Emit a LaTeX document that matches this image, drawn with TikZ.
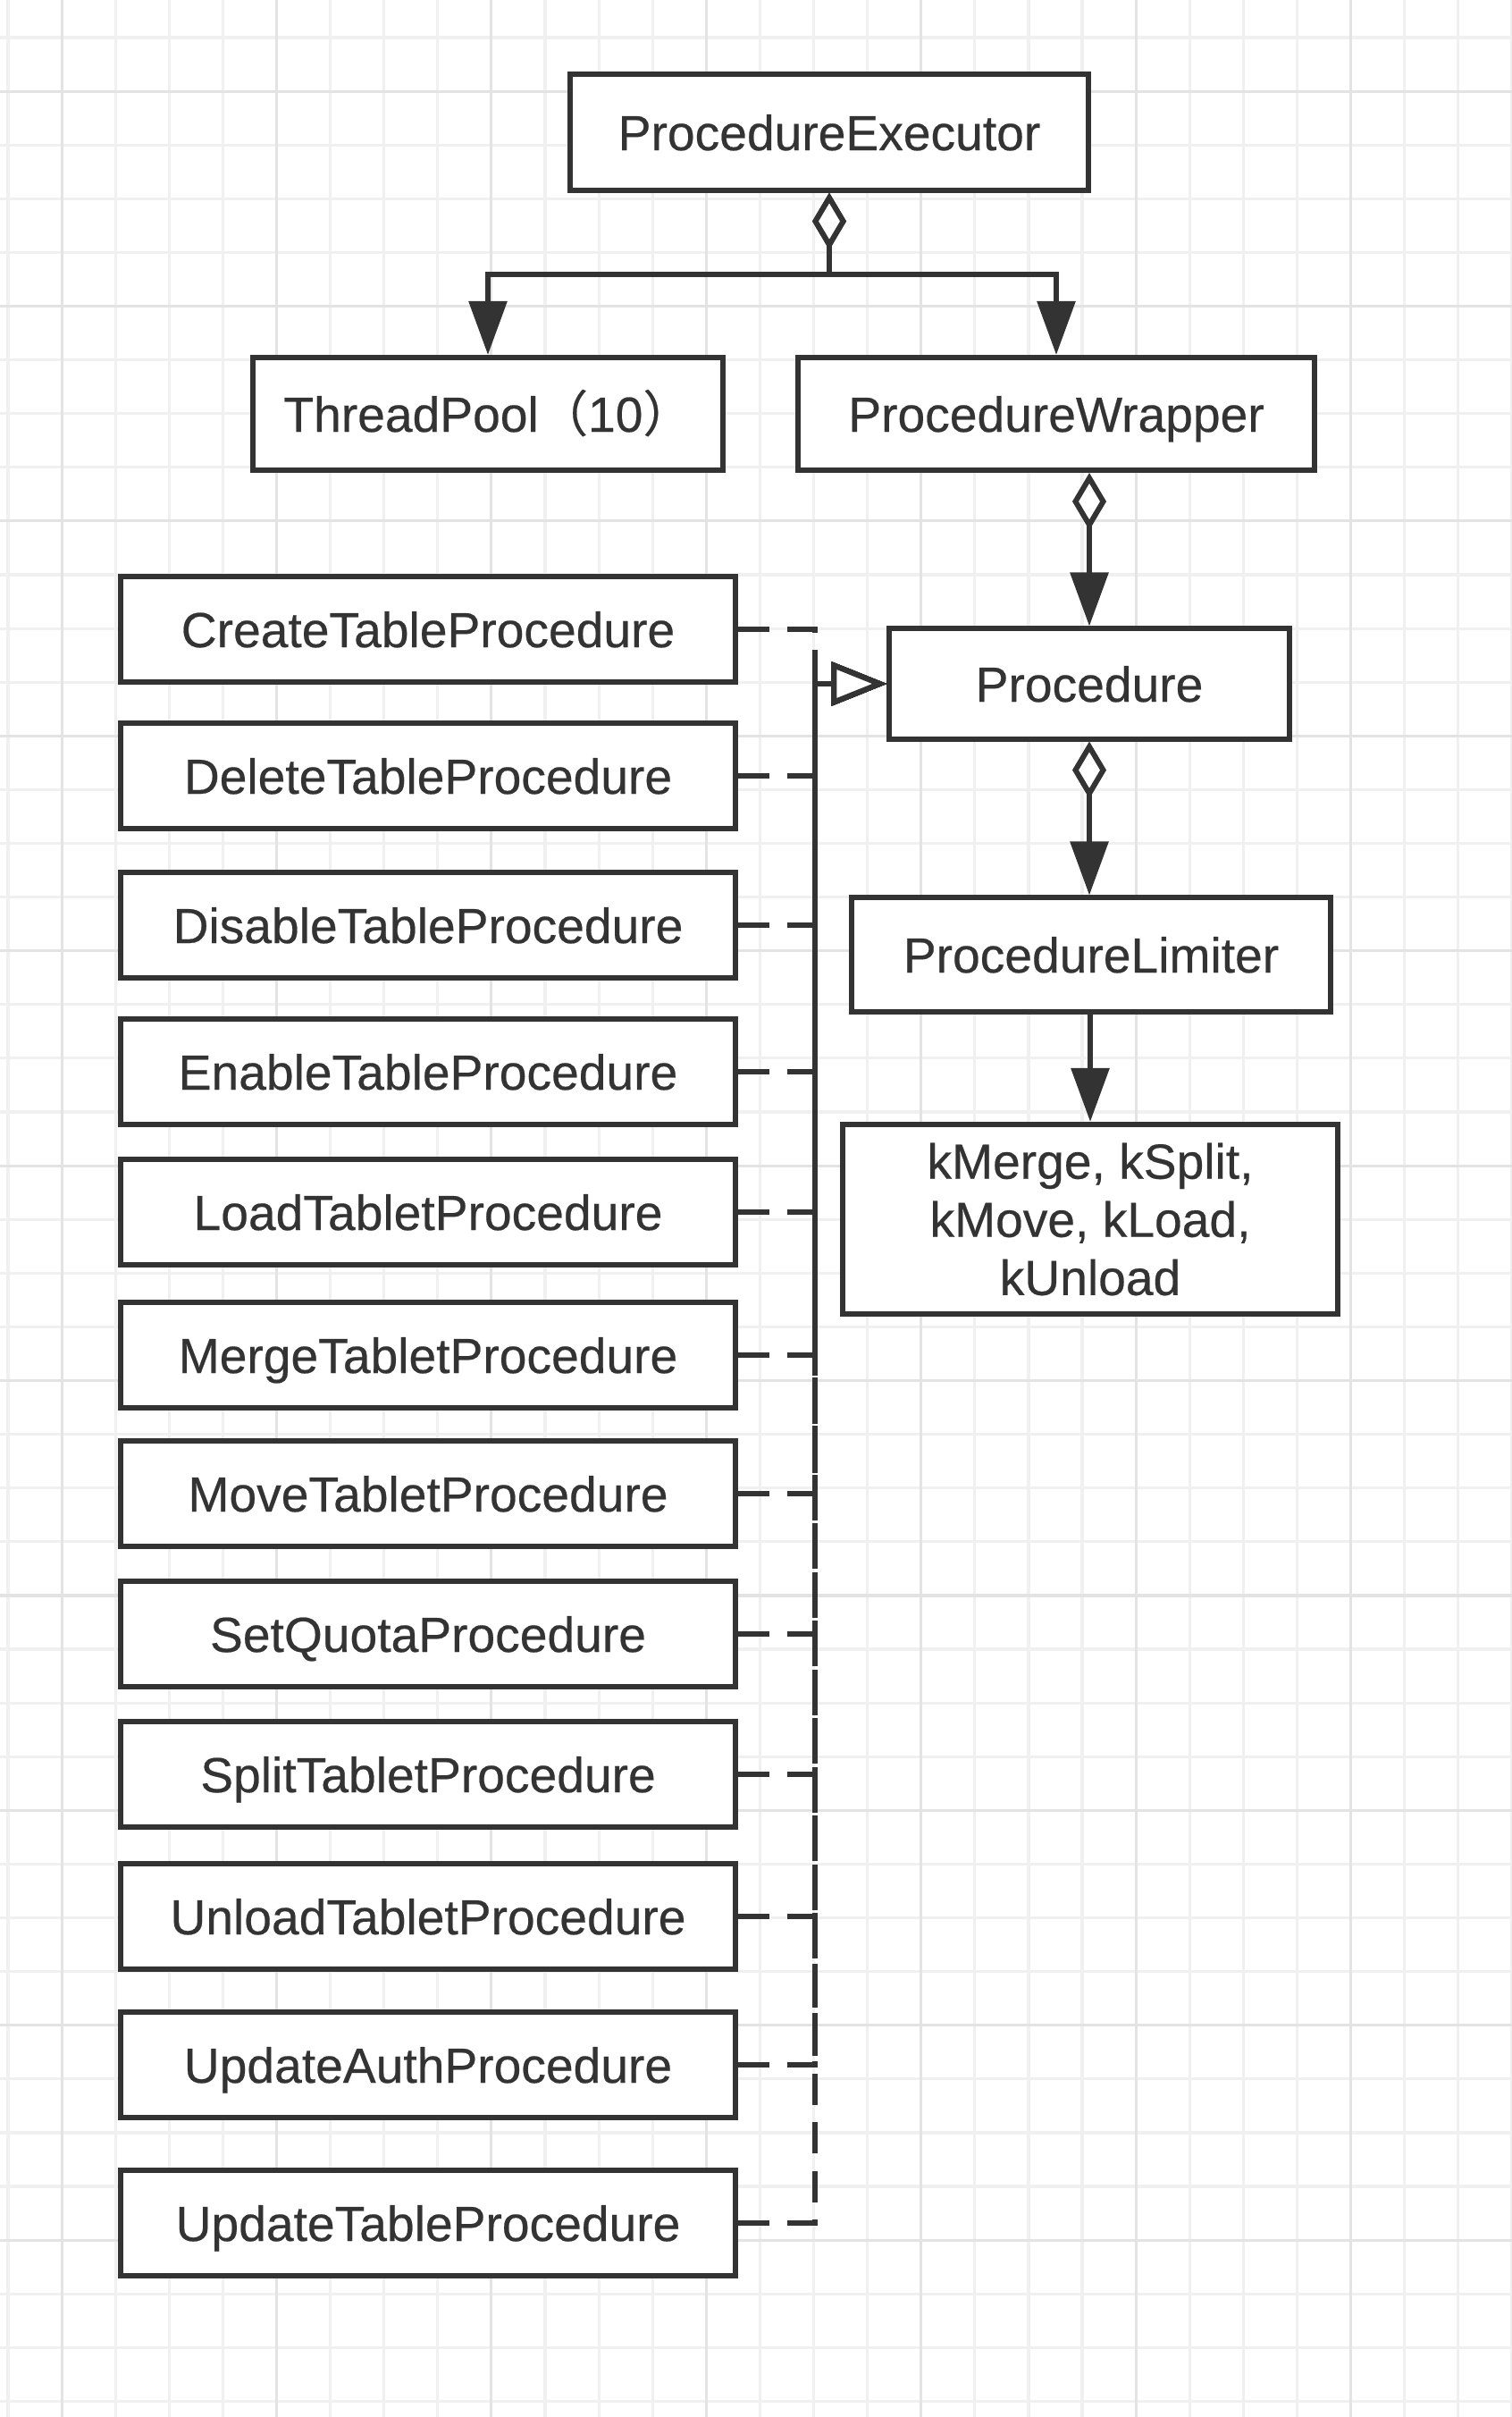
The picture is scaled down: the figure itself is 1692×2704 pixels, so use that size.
\documentclass[tikz,border=0pt]{standalone}
\usepackage{fontspec}
\setmainfont{Liberation Sans}
\newfontfamily\lbl{Liberation Sans}[FakeBold=0.4]
\newfontfamily\cjk{Noto Sans CJK SC}[FakeBold=0.4]
\usetikzlibrary{arrows.meta}
\definecolor{ink}{HTML}{333333}
\definecolor{gridminor}{HTML}{F0F0F0}
\definecolor{gridmajor}{HTML}{E3E3E3}
\tikzset{
  cls/.style={rectangle, draw=ink, line width=1.7pt, fill=white, text=ink,
    inner sep=0pt, align=center, font=\fontsize{15.7}{18.5}\lbl},
  one/.style={cls, text height=11.4pt, text depth=0pt},
  sub/.style={one, minimum width=6.88cm, minimum height=1.18cm},
  aggr/.style={draw=ink, line width=1.7pt,
    {Diamond[fill=white,length=0.64cm,width=0.38cm]}-{Triangle[length=0.6cm,width=0.42cm]}},
  assoc/.style={draw=ink, line width=1.7pt, -{Triangle[length=0.6cm,width=0.42cm]}},
  realize/.style={draw=ink, line width=1.7pt, dash pattern=on 10pt off 5.5pt,
    -{Triangle[fill=white,length=0.62cm,width=0.48cm]}}
}
\begin{document}
\begin{tikzpicture}[x=0.01cm, y=-0.01cm]
  \useasboundingbox (0,0) rectangle (1692,2704);
  \fill[white] (0,0) rectangle (1692,2704);
  % grid
  \foreach \k in {0,...,28}
    \draw[gridminor, line width=0.9pt] (9+60.1*\k,0) -- (9+60.1*\k,2704);
  \foreach \k in {0,...,44}
    \draw[gridminor, line width=0.9pt] (0,42+60.1*\k) -- (1692,42+60.1*\k);
  \foreach \k in {0,...,6}
    \draw[gridmajor, line width=0.9pt] (69.1+240.4*\k,0) -- (69.1+240.4*\k,2704);
  \foreach \k in {0,...,10}
    \draw[gridmajor, line width=0.9pt] (0,102.1+240.4*\k) -- (1692,102.1+240.4*\k);

  % Place nodes
  \node[one, minimum width=5.8cm, minimum height=1.29cm] (exec) at (928,148) {ProcedureExecutor};
  \node[one, minimum width=5.26cm, minimum height=1.26cm] (pool) at (546,463) {ThreadPool{\cjk （}10{\cjk ）}};
  \node[one, minimum width=5.78cm, minimum height=1.26cm] (wrapper) at (1182,463) {ProcedureWrapper};
  \node[one, minimum width=4.47cm, minimum height=1.23cm] (proc) at (1219,765) {Procedure};
  \node[one, minimum width=5.35cm, minimum height=1.27cm] (limiter) at (1221,1068) {ProcedureLimiter};
  \node[cls, minimum width=5.53cm, minimum height=2.12cm] (kinds) at (1220,1364) {kMerge, kSplit,\\kMove, kLoad,\\kUnload};

  \node[sub] (create) at (479,704) {CreateTableProcedure};
  \node[sub] (delete) at (479,868) {DeleteTableProcedure};
  \node[sub] (disable) at (479,1035) {DisableTableProcedure};
  \node[sub] (enable) at (479,1199) {EnableTableProcedure};
  \node[sub] (load) at (479,1356) {LoadTabletProcedure};
  \node[sub] (merge) at (479,1516) {MergeTabletProcedure};
  \node[sub] (move) at (479,1671) {MoveTabletProcedure};
  \node[sub] (quota) at (479,1828) {SetQuotaProcedure};
  \node[sub] (split) at (479,1985) {SplitTabletProcedure};
  \node[sub] (unload) at (479,2144) {UnloadTabletProcedure};
  \node[sub] (auth) at (479,2310) {UpdateAuthProcedure};
  \node[sub] (update) at (479,2487) {UpdateTableProcedure};

  \coordinate (fork) at (928,307);
  \coordinate (bus) at (912,765);

  % Draw edges
  \draw[aggr] (exec.south) -- (fork) -| (pool.north);
  \draw[aggr] (exec.south) -- (fork) -| (wrapper.north);
  \draw[aggr] (proc.north |- wrapper.south) -- (proc.north);
  \draw[aggr] (proc.south) -- (proc.south |- limiter.north);
  \draw[assoc] (limiter.south -| kinds.north) -- (kinds.north);
  \foreach \n in {create,delete,disable,enable,load,merge,move,quota,split,unload,auth,update}
    \draw[realize] (\n.east) -| (bus) -- (proc.west);
\end{tikzpicture}
\end{document}
